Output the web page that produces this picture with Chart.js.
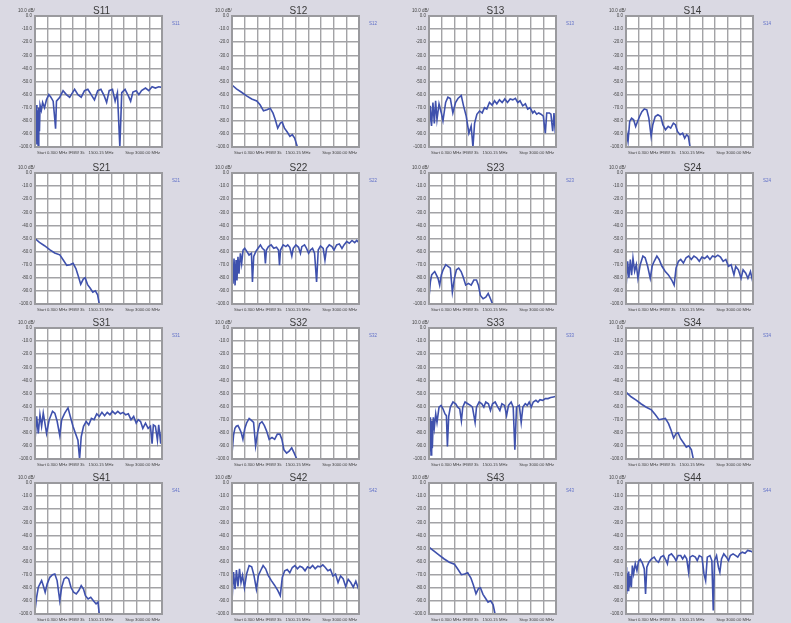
<!DOCTYPE html>
<html>
<head>
<meta charset="utf-8">
<script src="https://cdn.jsdelivr.net/npm/chart.js@4"></script>
<style>
  html, body { margin: 0; padding: 0; background: #dad9e3; }
  #page { position: relative; width: 791px; height: 623px; background: #dad9e3; overflow: hidden; }
  #page canvas { position: absolute; }
</style>
</head>
<body>
<div id="page"></div>
<script>
// Sweep position in % of span (x) and magnitude in dB (y)
const S11_X = [0,0.5,1,1.5,2,2.5,3,3.5,4,5,6,7.5,9,10.9,12.5,14.3,15.6,16.2,16.9,19.5,22.1,24.7,27.3,28.6,31.2,33.8,36.4,39,41.6,44.2,46.8,49.4,51.9,54.5,56.4,58.4,61,63.1,64.9,66.8,68.3,70.9,73.5,75.3,77.1,79.7,81.8,83.9,87,89.6,92.2,94.8,97.4,100];
const S11_Y = [-75,-95,-68,-98,-72,-100,-70,-88,-68,-72,-66,-70,-64,-60,-62,-65,-79,-86,-65,-62,-57,-60,-62,-60,-56,-60,-62,-57,-56,-60,-64,-57,-56,-61,-66,-57,-56,-65,-58.5,-100,-58.5,-56,-61,-65,-58,-57,-60,-57,-55,-57,-54,-55,-54,-54.5];

const S12_X = [0,3.5,7.5,11.5,15.5,19.5,22.1,24.8,27.5,30.1,32.3,34.1,36,38.1,39.5,41.3,43.5,45.6,47.5,49.3,51.5];
const S12_Y = [-52.7,-55.7,-58.2,-61,-63.3,-64.8,-67.8,-72.4,-71.6,-70.4,-74.2,-79.2,-85.6,-81.8,-81,-85.6,-88.6,-91.9,-90.6,-93.2,-100];

const S13_X = [0,1,2,3.1,4.2,5.2,6.3,7.9,9.7,11,13.1,14.9,16.8,18.8,20.9,22.8,25.4,27.2,29.3,31.4,33.2,34.6,35.9,37.7,39.8,41.9,43.7,45.5,47.6,49.7,51.6,53.4,55.5,57.6,59.7,61.8,63.9,66,68,69.9,71.7,73.8,75.9,77.7,79.6,81.7,83,84.8,86.4,88.2,90,91.6,92.7,94.8,96,97.4,98.4,99.5,100];
const S13_Y = [-87,-68.6,-84,-66,-82,-64.7,-79,-67,-74,-80,-66,-62,-63,-74,-66,-63,-60.7,-68.6,-76.4,-89.5,-84,-100,-82,-75,-72.5,-74,-70,-71,-66,-68,-64.7,-67,-64,-66,-63.3,-66,-63.3,-64,-62.8,-66,-64.7,-68.6,-67,-71,-70,-74,-72.5,-75,-74,-75,-76.4,-89.5,-74,-74,-75,-88,-74,-89.5,-75];

const S14_X = [0,0.8,1.6,2.9,4.4,6,7.6,9.1,10.7,12.5,14.4,16.4,18,19.8,21.1,23,25.1,27.4,29,31.1,33.2,35.2,37.3,38.9,40.5,42.6,44.6,46.2,47.8,49.1,50.4];
const S14_Y = [-98,-90.6,-95.7,-80.5,-78,-79.2,-84.3,-80.5,-76.7,-73,-70.9,-71.6,-78,-91.9,-83,-76.7,-75.4,-76.7,-83,-86.8,-84.3,-85.6,-81.8,-83,-88.1,-90.6,-89.4,-93.2,-90.6,-91.9,-100];

const S21_X = [0,3.5,7.5,11.5,15.5,19.5,22,25,27.5,30,32.2,34,36,38,39.5,41.3,43.5,45.5,47.5,49.3,50.6];
const S21_Y = [-50,-53,-55.5,-58.5,-61,-62.5,-66,-70.5,-70,-69,-73,-78.5,-85,-81,-80,-85,-88,-91,-90,-93,-100];

const S22_X = [0,0.8,1.6,2.4,3.2,3.9,4.7,5.5,6.6,7.6,8.7,10,11.8,13.4,15.3,16.1,17.1,18.7,20.5,22.4,23.9,25.5,26.3,27.1,28.7,30.8,32.9,35,36.6,37.4,38.2,40.3,42.4,43.9,45.5,47.1,48.2,50.3,52.4,53.9,55,57.1,58.7,60.3,61.8,63.4,65,66.6,67.9,69.7,71.8,73.2,74.5,76.6,78.7,80.3,82.4,84.5,86.6,88.2,90.3,92.4,94.5,96.6,98.2,100];
const S22_Y = [-69,-84.5,-65.2,-85.8,-66.5,-82,-64,-76.8,-61.3,-69,-58.8,-57.5,-60,-62.6,-61.3,-83.2,-63.7,-60,-57.5,-54.9,-57.5,-58.8,-69,-58.8,-56.2,-54.9,-57.5,-56.7,-58.8,-70.3,-58.8,-54.9,-56.2,-54.9,-56.7,-63.4,-57.5,-54.9,-56.7,-61.3,-56.2,-54.9,-57.5,-61.3,-58.8,-57.5,-61.3,-83.2,-58.8,-55.7,-57.5,-66.5,-57.5,-54.9,-56.2,-58.8,-54.9,-54.1,-57.5,-54.9,-52.3,-53.6,-51.5,-53.1,-51.5,-53.1];

const S23_X = [0,1.1,2.1,3.2,4.5,5.8,7.1,8.4,9.7,11.1,13.2,15,16.8,18.4,20,21.6,23.4,25.3,26.8,28.9,31.1,33.2,35.3,37.4,38.9,40.5,42.6,44.7,46.6,48.4,50];
const S23_Y = [-95,-83,-77.8,-76.5,-75.2,-77.8,-80.4,-85.6,-77.8,-73.9,-70,-71.3,-72.6,-90.9,-80.4,-73.9,-72.6,-75.2,-79.1,-85.6,-84.3,-85.6,-81.7,-81.7,-85.6,-93.5,-96,-94.8,-92,-96,-100];

const S24_X = [0,1.3,2.3,3.4,4.4,5.5,6.8,8.1,9.4,11.2,13.3,15.1,17,19.1,20.6,22.2,24.3,26.1,28.2,30.8,33.4,36,37.9,39.4,41.3,43.1,45.2,47.3,49.3,51.4,53.5,55.6,57.7,59.8,61.9,64,66.1,68.1,70.2,72.3,74.4,76.5,78.6,80.7,82.8,85,86.4,88.5,90.6,92.2,94.3,96,98,99.5,100];
const S24_Y = [-88,-67.4,-80,-66,-78,-65,-75,-70,-80.4,-70,-63.4,-64.7,-71,-80.4,-71,-67.4,-63.4,-66,-71,-75,-77.8,-81.7,-85.6,-72.6,-67.4,-66,-68.7,-64.7,-63.4,-66,-63.4,-64.7,-67.4,-64.2,-65.3,-63.4,-66,-63.4,-64.2,-62.7,-64.2,-67.4,-66,-71.3,-70,-77.8,-71.3,-73.9,-80.4,-73.9,-76.5,-80.4,-75.2,-81.7,-77.8];

const S31_X = [0,1.3,2.6,3.9,5.2,6.5,7.8,9.1,11.2,13.8,15.6,17.4,19.5,21,23.4,26,27.8,29.9,31.9,33.8,35.1,36.4,38.2,40.3,42.3,44.4,46.5,48.6,50.6,52.7,54.8,56.9,59,61,63.1,65.2,67.3,69.4,71.4,73.5,75.6,77.7,79.7,81.3,83.1,84.9,87,89.1,90.9,92.2,93.2,94.8,96.4,97.4,99,100];
const S31_Y = [-86,-67.5,-80.5,-66.2,-75,-65,-72.7,-80.5,-70,-63.6,-65,-71,-82,-70,-65,-61,-67.5,-75,-80.5,-85.7,-100,-83,-75,-71.4,-74,-69,-70,-65.5,-67.5,-64.4,-67,-64.4,-66.2,-63.6,-65.5,-63.6,-65.5,-64.4,-66.2,-65.5,-70,-67.5,-72.7,-70,-71.4,-76.6,-72.7,-76.6,-75,-88.3,-74,-75,-85.7,-74,-88.3,-75];

const S32_X = [0,1.2,2.3,3.4,4.7,6,7.3,8.6,10,11.5,13.5,15.3,17,18.6,20.2,21.8,23.6,25.5,27.2,29.3,31.5,33.6,35.7,37.7,39.3,40.9,43,45,47,49,51];
const S32_Y = [-96,-82,-76.5,-75,-74.5,-77,-80,-85,-77,-72.5,-69,-70.5,-72,-90,-79.5,-73,-71.5,-74.5,-78.5,-85,-83.5,-85,-81,-81,-85,-93,-95.5,-94,-91.5,-95.5,-100];

const S33_X = [0,0.5,1.1,1.6,2.1,2.6,3.4,4.2,5.3,6.3,7.9,9.5,11,12.6,13.7,14.5,15.5,16.8,18.9,21,22.6,24.2,25.5,26.6,28.4,30.5,32.6,34.2,36.3,37.4,39.5,41.6,43.2,44.7,46.8,48.4,50,52.1,54.2,55.8,57.4,59.5,61.1,62.6,64.7,66.3,67.6,68.9,71.1,72.6,73.9,75.8,77.4,78.9,80.5,82.1,84.2,85.8,87.4,89.5,91.6,93.7,95.8,97.9,100];
const S33_Y = [-70.8,-94.3,-68.2,-96.9,-70.8,-91.7,-68.2,-76,-65.6,-72.1,-60.4,-59.1,-61.7,-65.6,-66.9,-90.4,-67.7,-60.4,-56.5,-57.8,-60.4,-61.7,-70.8,-60.4,-56.5,-57.8,-59.1,-60.4,-72.1,-60.4,-56.5,-57.8,-60.4,-56.5,-57.8,-63,-57.8,-56.5,-60.4,-63,-57.8,-59.1,-66.9,-59.1,-56.5,-60.4,-93,-60.4,-59.1,-72.1,-60.4,-57.8,-59.1,-56.5,-60.4,-56.5,-55.2,-56.5,-54.7,-55.2,-53.9,-53.9,-53.1,-52.6,-52.1];

const S34_X = [0,4,8,12,16,20,23,26,28.5,31,33.5,35.5,37.5,39.5,41,43,45.5,47.5,49.5,51.5,53];
const S34_Y = [-49,-52.5,-55,-58,-60.5,-62.5,-66,-70,-69.5,-69,-73,-78,-84,-80.5,-80,-84.5,-88,-91,-90,-93,-100];

const S41_X = [0,1.3,2.6,3.9,5.2,6.5,8,9.6,11.7,13.8,15.6,17.4,19.5,21,22.9,24.7,26.5,28.3,30.4,32.5,34.5,36.4,38.2,39.7,41.8,43.9,46,48.1,49.6,50.6];
const S41_Y = [-97.4,-87.2,-79.6,-77,-74.5,-78.3,-83.4,-77,-72,-70,-69.4,-74.5,-89.8,-79.6,-73.2,-71.9,-73.2,-79.6,-83.4,-84.7,-82.1,-78.3,-80.9,-86,-88.5,-87.2,-89.8,-92.3,-91,-100];

const S42_X = [0,1.2,2.4,3.5,4.7,5.9,7.1,8.3,9.8,11.5,13.5,15.5,17.3,19.2,20.8,22.5,24.5,26.5,28.5,31,33.5,36,38,39.6,41.5,43.5,45.5,47.5,49.5,51.5,53.5,55.5,57.5,59.5,61.5,63.5,65.5,67.5,69.5,71.5,73.5,75.5,77.5,79.5,81.5,83.5,85.5,87.5,89.5,91.5,93.5,95.5,97.5,99.3,100];
const S42_Y = [-90,-68,-81,-66.5,-79,-65.5,-76,-70.5,-80,-69.5,-63,-64,-70.5,-81,-70.5,-67,-63,-65.5,-70.5,-74.5,-78,-82,-86,-72,-67,-66,-68.5,-64.5,-63,-65.5,-63.5,-64.5,-67,-64,-65,-63,-65.5,-63.5,-64,-62.5,-64.5,-67,-66,-71,-69.5,-76,-71,-73,-79,-73.5,-76,-79.5,-75,-80,-77.5];

const S43_X = [0,4,8,12,16,20,22.5,25.5,28,30.5,33,35,37,39,40.5,42.5,44.5,46.5,48.5,50.5,52];
const S43_Y = [-49,-52,-55,-58,-60.5,-62,-65.5,-70,-69.5,-68.5,-72.5,-78,-84.5,-80.5,-80,-85,-88,-91,-90,-93,-100];

const S44_X = [0,0.5,1,1.6,2.1,2.6,3.4,4.2,5,6,7.3,8.6,9.9,11.2,12.8,14.4,15.4,16.4,18,20.1,22.2,23.8,25.6,27.4,29.5,31.6,32.6,33.7,35.8,37.9,39.4,41,43.1,44.6,46.2,47.8,49.3,50.4,52.5,54.6,56.1,57.7,59.8,61.4,62.7,64,66.1,67.6,68.7,69.7,71.3,72.8,73.9,75.2,77,79.1,80.7,82.2,84.3,86.4,88,89.6,91.6,93.7,95.8,97.9,100];
const S44_Y = [-64.3,-84.7,-68.9,-82.1,-67.6,-79.6,-70.9,-79.6,-63,-69.4,-61.7,-66.8,-59.6,-58.3,-60.9,-65.6,-84.7,-64.3,-60.5,-57.9,-56.6,-59.2,-60.5,-56.6,-55.4,-59.2,-61.7,-55.4,-54.1,-56.6,-59.2,-55.4,-55.4,-57.9,-55.4,-57.9,-68.1,-56.6,-55.4,-56.6,-59.2,-55.4,-56.6,-69.4,-74.5,-56.6,-55.4,-59.2,-97.4,-59.2,-55.4,-64.3,-68.1,-57.9,-54.1,-56.6,-59.2,-55.4,-54.1,-55.4,-56.6,-54.1,-52.8,-53.6,-51.5,-52,-52.8];

// Axis settings and labels
const Y_MIN = -100;
const Y_MAX = 0;
const Y_STEP = 10;
const X_STEP = 10;
const Y_HEADER = '10.0 dB/';
const X_LABELS = ['Start 0.300 MHz IFBW 3k', '1500.15 MHz', 'Stop 3000.00 MHz'];

const PANELS = [
  ['S11', S11_X, S11_Y], ['S12', S12_X, S12_Y], ['S13', S13_X, S13_Y], ['S14', S14_X, S14_Y],
  ['S21', S21_X, S21_Y], ['S22', S22_X, S22_Y], ['S23', S23_X, S23_Y], ['S24', S24_X, S24_Y],
  ['S31', S31_X, S31_Y], ['S32', S32_X, S32_Y], ['S33', S33_X, S33_Y], ['S34', S34_X, S34_Y],
  ['S41', S41_X, S41_Y], ['S42', S42_X, S42_Y], ['S43', S43_X, S43_Y], ['S44', S44_X, S44_Y]
];

// Page layout (plot box left/top for each column/row)
const COL_LEFT = [35, 232, 429, 626];
const ROW_TOP = [16, 173, 328, 483];
const CANVAS_W = 197;
const CANVAS_H = 156;
const PAD_LEFT = 20;
const PAD_TOP = 16;

const FONT = "'Liberation Sans', Arial, sans-serif";
const GRID_COLOR = '#a3a3a6';
const TRACE_COLOR = '#3f51ad';

// Draws the white plot face, frame, title, tag and sweep labels
const panelDecor = {
  id: 'panelDecor',
  beforeDraw(chart) {
    const a = chart.chartArea;
    const ctx = chart.ctx;
    ctx.save();
    ctx.fillStyle = '#ffffff';
    ctx.fillRect(a.left, a.top, a.right - a.left, a.bottom - a.top);
    ctx.restore();
  },
  afterDraw(chart, args, opts) {
    const a = chart.chartArea;
    const ctx = chart.ctx;
    ctx.save();
    ctx.strokeStyle = '#9a9a9e';
    ctx.lineWidth = 2;
    ctx.strokeRect(a.left, a.top, a.right - a.left, a.bottom - a.top);

    ctx.fillStyle = '#3a3a3a';
    ctx.font = '10px ' + FONT;
    ctx.textAlign = 'center';
    ctx.textBaseline = 'alphabetic';
    ctx.fillText(opts.title, (a.left + a.right) / 2 + 3, a.top - 2);

    ctx.fillStyle = '#6070c8';
    ctx.font = '4.5px ' + FONT;
    ctx.textAlign = 'left';
    ctx.fillText(opts.title, a.right + 10, a.top + 9);

    ctx.fillStyle = '#444444';
    ctx.font = '4.5px ' + FONT;
    ctx.textAlign = 'left';
    ctx.fillText(Y_HEADER, a.left - 17, a.top - 4);

    const y = a.bottom + 7;
    ctx.font = '4.2px ' + FONT;
    ctx.textAlign = 'left';
    ctx.fillText(X_LABELS[0], a.left + 2, y);
    ctx.textAlign = 'center';
    ctx.fillText(X_LABELS[1], a.left + (a.right - a.left) * 0.52, y);
    ctx.textAlign = 'right';
    ctx.fillText(X_LABELS[2], a.right - 2, y);
    ctx.restore();
  }
};

const page = document.getElementById('page');

PANELS.forEach(([name, xs, ys], i) => {
  const col = i % 4;
  const row = Math.floor(i / 4);
  const canvas = document.createElement('canvas');
  canvas.width = CANVAS_W;
  canvas.height = CANVAS_H;
  canvas.style.width = CANVAS_W + 'px';
  canvas.style.height = CANVAS_H + 'px';
  canvas.style.left = (COL_LEFT[col] - PAD_LEFT) + 'px';
  canvas.style.top = (ROW_TOP[row] - PAD_TOP) + 'px';
  page.appendChild(canvas);

  const points = xs.map((x, k) => ({ x: x, y: ys[k] }));

  new Chart(canvas.getContext('2d'), {
    type: 'line',
    data: {
      datasets: [{
        label: name,
        data: points,
        borderColor: TRACE_COLOR,
        borderWidth: 1.6,
        pointRadius: 0,
        tension: 0,
        fill: false
      }]
    },
    options: {
      responsive: false,
      animation: false,
      events: [],
      layout: { padding: { left: 0, top: PAD_TOP, right: CANVAS_W - PAD_LEFT - 127, bottom: CANVAS_H - PAD_TOP - 131 } },
      scales: {
        x: {
          type: 'linear',
          min: 0,
          max: 100,
          ticks: { display: false, stepSize: X_STEP },
          grid: { color: GRID_COLOR, lineWidth: 1.4, drawTicks: false },
          border: { display: false },
          afterFit: (scale) => { scale.height = 0; }
        },
        y: {
          min: Y_MIN,
          max: Y_MAX,
          ticks: {
            stepSize: Y_STEP,
            color: '#444444',
            padding: 3,
            font: { size: 4.5, family: FONT },
            callback: (v) => v.toFixed(1)
          },
          grid: { color: GRID_COLOR, lineWidth: 1.4, drawTicks: false },
          border: { display: false },
          afterFit: (scale) => { scale.width = PAD_LEFT; }
        }
      },
      plugins: {
        legend: { display: false },
        tooltip: { enabled: false },
        panelDecor: { title: name }
      }
    },
    plugins: [panelDecor]
  });
});
</script>
</body>
</html>
